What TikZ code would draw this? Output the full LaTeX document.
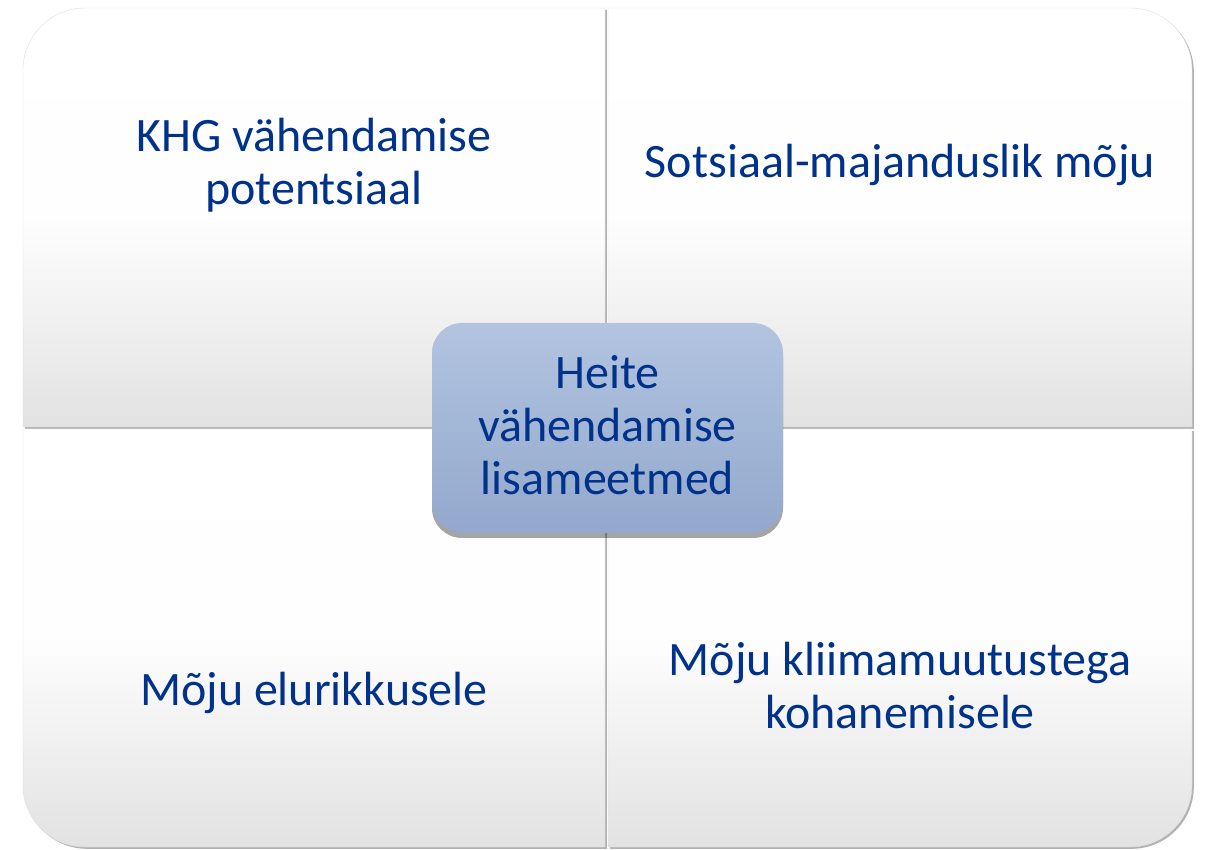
\documentclass[tikz,border=0pt]{standalone}
\usepackage{fontspec}
\setmainfont{Carlito}
\usetikzlibrary{shadows}
\definecolor{txtblue}{RGB}{0,50,140}
\definecolor{quadgray}{RGB}{226,226,226}
\definecolor{boxtop}{RGB}{178,196,224}
\definecolor{boxbot}{RGB}{147,168,204}
\tikzset{
  quad/.style={top color=white, bottom color=quadgray, middle color=white!96!quadgray,
    draw=gray!25, line width=0.4pt,
    drop shadow={shadow xshift=1.8pt, shadow yshift=-1.8pt, opacity=0.3, fill=black}},
  qtext/.style={text=txtblue, align=center, font=\fontsize{48}{53}\selectfont, inner sep=0pt, anchor=base},
  hub/.style={rounded corners=30pt, top color=boxtop, bottom color=boxbot, draw=none,
    minimum width=351pt, minimum height=210pt,
    drop shadow={shadow xshift=0pt, shadow yshift=-5pt, opacity=0.35, fill=black}},
}
\begin{document}
\begin{tikzpicture}[x=1pt,y=1pt]
\useasboundingbox (0,0) rectangle (1207,849);
\fill[white] (0,0) rectangle (1207,849);
% quadrants
\path[quad] (23,422) -- (23,779) arc[start angle=180, end angle=90, radius=62pt] -- (605,841) -- (605,422) -- cycle;
\path[quad] (608,422) -- (608,841) -- (1130,841) arc[start angle=90, end angle=0, radius=62pt] -- (1192,422) -- cycle;
\path[quad] (23,420) -- (23,64) arc[start angle=180, end angle=270, radius=62pt] -- (605,2) -- (605,420) -- cycle;
\path[quad] (608,420) -- (608,2) -- (1130,2) arc[start angle=270, end angle=360, radius=62pt] -- (1192,420) -- cycle;
% texts (base anchor = baseline of last line)
\node[qtext] (tl) at (314,644) {KHG vähendamise\\potentsiaal};
\node[qtext] (tr) at (900,671) {Sotsiaal-majanduslik mõju};
\node[qtext] (bl) at (314,144) {Mõju elurikkusele};
\node[qtext] (br) at (900,121) {Mõju kliimamuutustega\\kohanemisele};
% hub
\node[hub] (hubbox) at (607.5,421) {};
\node[qtext] (hubtext) at (607.5,354) {Heite\\vähendamise\\lisameetmed};
\end{tikzpicture}
\end{document}
